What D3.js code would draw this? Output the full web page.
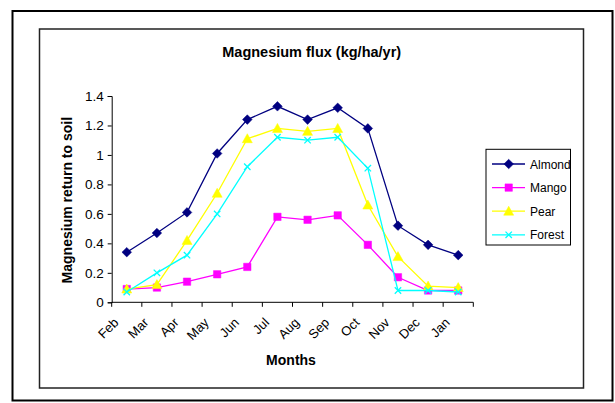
<!DOCTYPE html>
<html>
<head>
<meta charset="utf-8">
<script src="https://cdn.jsdelivr.net/npm/d3@7"></script>
<style>
  body { margin: 0; background: #fff; }
  text { font-family: "Liberation Sans", Arial, sans-serif; fill: #000; }
</style>
</head>
<body>
<svg width="615" height="403"></svg>
<script>
// Chart data
const months = ["Feb", "Mar", "Apr", "May", "Jun", "Jul", "Aug", "Sep", "Oct", "Nov", "Dec", "Jan"];
const almond = [0.34, 0.47, 0.61, 1.01, 1.24, 1.33, 1.24, 1.32, 1.18, 0.52, 0.39, 0.32];
const mango  = [0.09, 0.10, 0.14, 0.19, 0.24, 0.58, 0.56, 0.59, 0.39, 0.17, 0.08, 0.08];
const pear   = [0.09, 0.12, 0.42, 0.74, 1.11, 1.18, 1.16, 1.18, 0.66, 0.31, 0.11, 0.10];
const forest = [0.07, 0.20, 0.32, 0.60, 0.92, 1.12, 1.10, 1.12, 0.91, 0.08, 0.08, 0.07];
const yTicks = [0, 0.2, 0.4, 0.6, 0.8, 1, 1.2, 1.4];

const seriesNames = ["Almond", "Mango", "Pear", "Forest"];
const seriesValues = [almond, mango, pear, forest];
const seriesColors = ["#000080", "#FF00FF", "#FFFF00", "#00FFFF"];
const seriesMarkers = ["diamond", "square", "triangle", "cross"];

const svg = d3.select("svg");

// Frames
svg.append("rect")
    .attr("x", 12.5).attr("y", 11)
    .attr("width", 600).attr("height", 389.5)
    .attr("fill", "none").attr("stroke", "#000").attr("stroke-width", 2);
svg.append("rect")
    .attr("x", 39.5).attr("y", 29)
    .attr("width", 544).attr("height", 359)
    .attr("fill", "none").attr("stroke", "#222").attr("stroke-width", 1.5);

// Scales
const x = d3.scaleBand().domain(months).range([111.7, 473.3]).padding(0);
const y = d3.scaleLinear().domain([0, 1.4]).range([302.3, 96]);
const cx = m => x(m) + x.bandwidth() / 2;

// Y axis
const yAxis = svg.append("g")
    .attr("transform", `translate(${x.range()[0]},0)`)
    .call(d3.axisLeft(y).tickValues(yTicks).tickSize(4).tickPadding(4)
        .tickFormat(d => String(+d.toFixed(1))));
yAxis.select(".domain").attr("stroke", "#000");
yAxis.selectAll(".tick line").attr("stroke", "#000");
yAxis.selectAll(".tick text")
    .style("font-size", "13.5px")
    .style("font-family", "'Liberation Sans', Arial, sans-serif");

// X axis: line, tick marks on band boundaries, rotated labels
const xAxis = svg.append("g");
xAxis.append("line")
    .attr("x1", x.range()[0]).attr("x2", x.range()[1])
    .attr("y1", y(0)).attr("y2", y(0))
    .attr("stroke", "#000");
const bounds = months.map(m => x(m)).concat([x.range()[1]]);
xAxis.selectAll(".xtick")
    .data(bounds)
    .join("line")
    .attr("class", "xtick")
    .attr("x1", d => d).attr("x2", d => d)
    .attr("y1", y(0)).attr("y2", y(0) + 4.5)
    .attr("stroke", "#000");
xAxis.selectAll(".xlabel")
    .data(months)
    .join("text")
    .attr("class", "xlabel")
    .attr("text-anchor", "end")
    .attr("transform", d => `translate(${cx(d) - 7.5},${y(0) + 21}) rotate(-45)`)
    .style("font-size", "13px")
    .text(d => d);

// Lines and markers
function markerPath(type) {
    switch (type) {
        case "diamond": return "M0,-4.8L4.8,0L0,4.8L-4.8,0Z";
        case "square": return "M-3.7,-3.7H3.7V3.7H-3.7Z";
        case "triangle": return "M0,-5L5,4H-5Z";
        default: return "M-3.2,-3.2L3.2,3.2M-3.2,3.2L3.2,-3.2";
    }
}

const line = d3.line()
    .x((d, i) => cx(months[i]))
    .y(d => y(d));

seriesValues.forEach((vals, s) => {
    const g = svg.append("g");
    g.append("path")
        .datum(vals)
        .attr("d", line)
        .attr("fill", "none")
        .attr("stroke", seriesColors[s])
        .attr("stroke-width", 1.3);
    const isCross = seriesMarkers[s] === "cross";
    g.selectAll("path.mk")
        .data(vals)
        .join("path")
        .attr("class", "mk")
        .attr("transform", (d, i) => `translate(${cx(months[i])},${y(d)})`)
        .attr("d", markerPath(seriesMarkers[s]))
        .attr("fill", isCross ? "none" : seriesColors[s])
        .attr("stroke", seriesColors[s])
        .attr("stroke-width", isCross ? 1.3 : 0.5);
});

// Titles
svg.append("text")
    .attr("x", 311.7).attr("y", 56.5)
    .attr("text-anchor", "middle")
    .style("font-size", "14.5px").style("font-weight", "bold")
    .text("Magnesium flux (kg/ha/yr)");
svg.append("text")
    .attr("x", 291).attr("y", 365)
    .attr("text-anchor", "middle")
    .style("font-size", "14px").style("font-weight", "bold")
    .text("Months");
svg.append("text")
    .attr("transform", `translate(72,${(y(0) + y(1.4)) / 2 + 1}) rotate(-90)`)
    .attr("text-anchor", "middle")
    .style("font-size", "14px").style("font-weight", "bold")
    .text("Magnesium return to soil");

// Legend
const legend = svg.append("g");
legend.append("rect")
    .attr("x", 486).attr("y", 149.3)
    .attr("width", 84.5).attr("height", 95.7)
    .attr("fill", "#fff").attr("stroke", "#000").attr("stroke-width", 1);
const items = legend.selectAll(".legend-entry")
    .data(seriesNames)
    .join("g")
    .attr("class", "legend-entry")
    .attr("transform", (d, i) => `translate(0,${164 + i * 23.6})`);
items.append("line")
    .attr("x1", 492).attr("x2", 525)
    .attr("stroke", (d, i) => seriesColors[i])
    .attr("stroke-width", 1.3);
items.append("path")
    .attr("transform", "translate(508.7,0)")
    .attr("d", (d, i) => markerPath(seriesMarkers[i]))
    .attr("fill", (d, i) => seriesMarkers[i] === "cross" ? "none" : seriesColors[i])
    .attr("stroke", (d, i) => seriesColors[i])
    .attr("stroke-width", (d, i) => seriesMarkers[i] === "cross" ? 1.3 : 0.5);
items.append("text")
    .attr("x", 530).attr("y", 4.5)
    .style("font-size", "12px")
    .text(d => d);
</script>
</body>
</html>
